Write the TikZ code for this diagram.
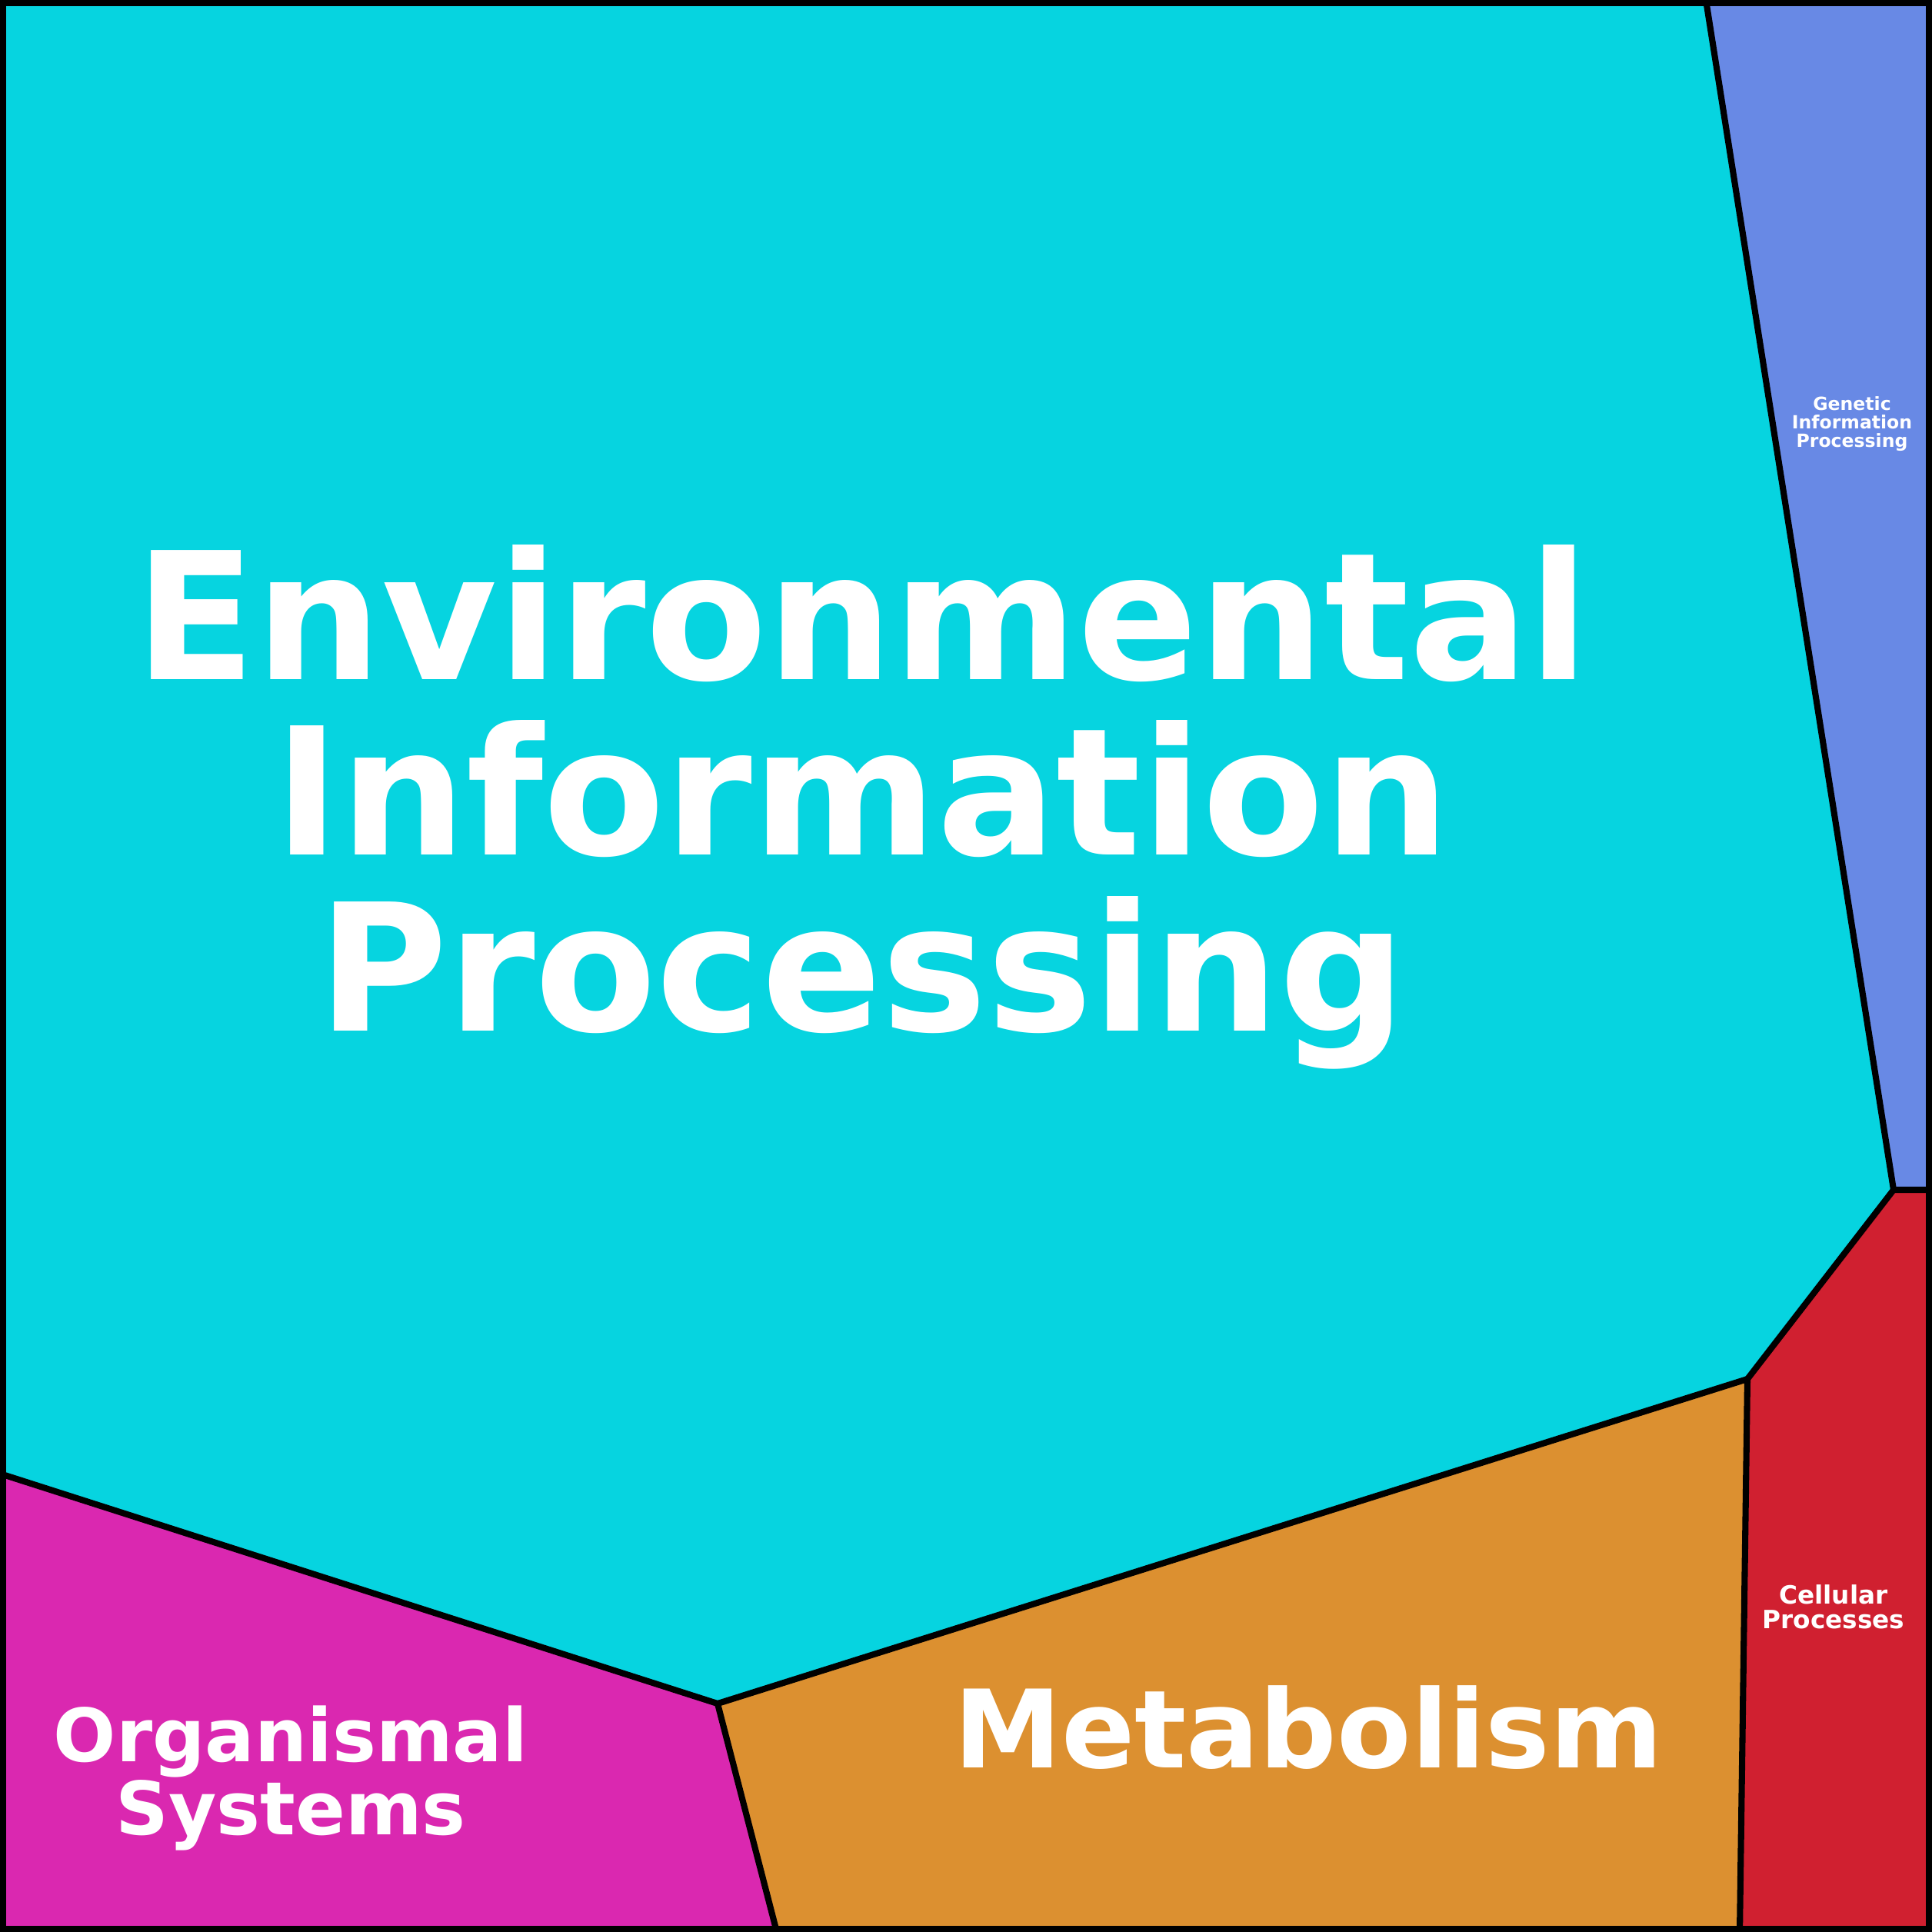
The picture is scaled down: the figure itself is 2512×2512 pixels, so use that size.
\documentclass[tikz,border=0pt]{standalone}
\usepackage{fontspec}
\setmainfont{DejaVu Sans}
\definecolor{env}{HTML}{06D4E0}
\definecolor{gen}{HTML}{6889E5}
\definecolor{cel}{HTML}{D02030}
\definecolor{met}{HTML}{DC9030}
\definecolor{org}{HTML}{DA28B0}
\begin{document}
\begin{tikzpicture}[x=0.01cm,y=-0.01cm,
  cell/.style={draw=black,line width=2.3pt,line join=round},
  lab/.style={text=white,font=\bfseries,align=center,inner sep=0pt}]
\useasboundingbox (0,0) rectangle (2512,2512);
\coordinate (TL) at (0,0); \coordinate (TR) at (2512,0);
\coordinate (BR) at (2512,2512); \coordinate (BL) at (0,2512);
\coordinate (A) at (2218,0); \coordinate (B) at (2462,1547);
\coordinate (Br) at (2512,1547); \coordinate (C) at (2272,1793);
\coordinate (D) at (2262,2512); \coordinate (E) at (933,2215);
\coordinate (F) at (1010,2512); \coordinate (G) at (0,1916);
\fill[env] (TL) -- (A) -- (B) -- (C) -- (E) -- (G) -- cycle;
\fill[gen] (A) -- (TR) -- (Br) -- (B) -- cycle;
\fill[cel] (B) -- (Br) -- (BR) -- (D) -- (C) -- cycle;
\fill[met] (E) -- (C) -- (D) -- (F) -- cycle;
\fill[org] (G) -- (E) -- (F) -- (BL) -- cycle;
\draw[cell] (A) -- (B) -- (Br);
\draw[cell] (B) -- (C) -- (D);
\draw[cell] (C) -- (E) -- (F);
\draw[cell] (E) -- (G);
\draw[line width=4.5pt] (0,0) rectangle (2512,2512);
\node[lab,font=\fontsize{65.5}{65}\selectfont\bfseries] (envl) at (1121,1049) {Environmental\\Information\\Processing};
\node[lab,font=\fontsize{40}{40}\selectfont\bfseries] (metl) at (1701,2246) {Metabolism};
\node[lab,font=\fontsize{27.2}{27}\selectfont\bfseries] (orgl) at (378,2312) {Organismal\\Systems};
\node[lab,font=\fontsize{9.3}{9.2}\selectfont\bfseries] (cell) at (2384,2089) {Cellular\\Processes};
\node[lab,font=\fontsize{6.7}{6.9}\selectfont\bfseries] (genl) at (2408,551) {Genetic\\Information\\Processing};
\end{tikzpicture}
\end{document}
